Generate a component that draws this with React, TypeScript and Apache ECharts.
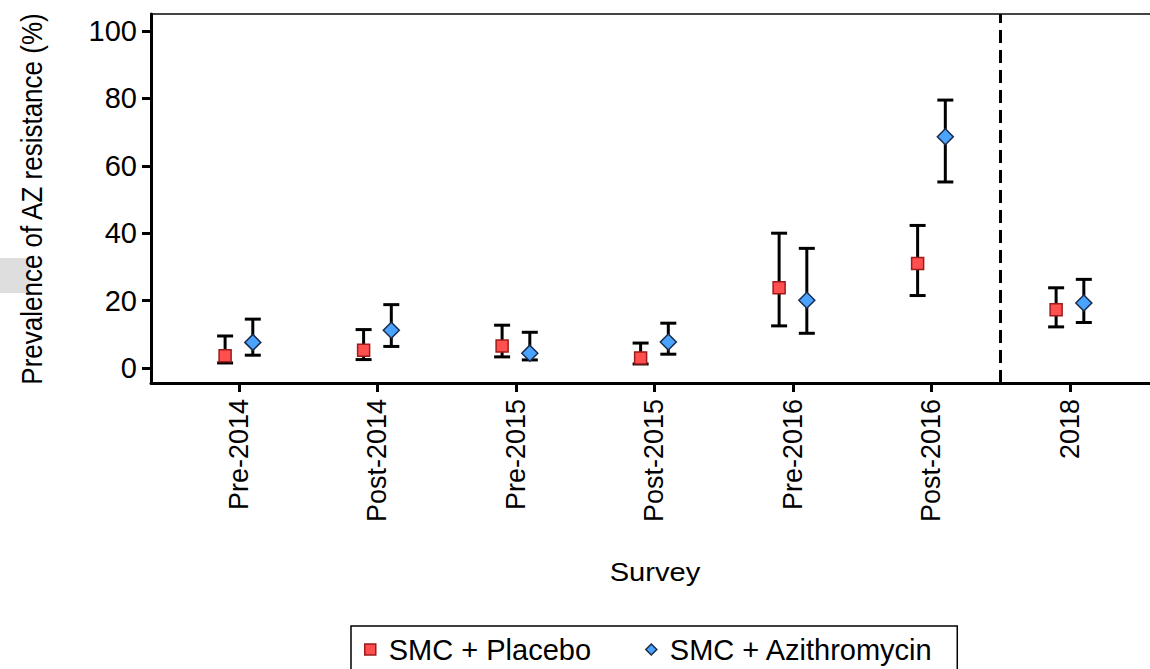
import React, { useEffect, useRef } from "react";
import * as echarts from "echarts";

const categories = ["Pre-2014", "Post-2014", "Pre-2015", "Post-2015", "Pre-2016", "Post-2016", "2018"];
const placeboEst = [3.6, 5.3, 6.5, 3.0, 23.8, 31.0, 17.3];
const placeboLow = [1.5, 2.5, 3.3, 1.2, 12.5, 21.5, 12.2];
const placeboHigh = [9.5, 11.4, 12.7, 7.4, 40.0, 42.3, 23.8];
const azEst = [7.6, 11.2, 4.4, 7.7, 20.1, 68.6, 19.3];
const azLow = [3.8, 6.4, 2.4, 4.1, 10.3, 55.2, 13.5];
const azHigh = [14.5, 18.8, 10.6, 13.3, 35.5, 79.5, 26.3];
const yTicks = [0, 20, 40, 60, 80, 100];
const dividerPosition = 6.5;

const OFFSET = 0.1;
const FONT = "'Liberation Sans', Arial, Helvetica, sans-serif";

export default function App() {
  const ref = useRef<HTMLDivElement>(null);

  useEffect(() => {
    if (!ref.current) return;
    const chart = echarts.init(ref.current, null, { renderer: "svg" });
    const catPos = categories.map((_, i) => i + 1);

    const placeboPts = catPos.map((p, i) => [p - OFFSET, placeboEst[i]]);
    const azPts = catPos.map((p, i) => [p + OFFSET, azEst[i]]);
    const placeboCI = catPos.map((p, i) => [p - OFFSET, placeboLow[i], placeboHigh[i]]);
    const azCI = catPos.map((p, i) => [p + OFFSET, azLow[i], azHigh[i]]);

    const renderErr = (params: any, api: any) => {
      const x = api.value(0);
      const lo = api.coord([x, api.value(1)]);
      const hi = api.coord([x, api.value(2)]);
      const hw = 8;
      const style = { stroke: "#000", lineWidth: 3 };
      return {
        type: "group",
        children: [
          { type: "line", shape: { x1: lo[0], y1: lo[1], x2: hi[0], y2: hi[1] }, style },
          { type: "line", shape: { x1: lo[0] - hw, y1: lo[1], x2: lo[0] + hw, y2: lo[1] }, style },
          { type: "line", shape: { x1: hi[0] - hw, y1: hi[1], x2: hi[0] + hw, y2: hi[1] }, style },
        ],
      };
    };

    chart.setOption({
      animation: false,
      backgroundColor: "#fff",
      textStyle: { fontFamily: FONT },
      grid: {
        left: 151,
        top: 14,
        width: 1009,
        height: 369,
        outerBoundsMode: "none",
        containLabel: false,
        show: true,
        borderColor: "#444",
        borderWidth: 2,
        backgroundColor: "transparent",
      },
      graphic: [
        { type: "rect", z: -10, shape: { x: 0, y: 258, width: 30, height: 35 }, style: { fill: "#dedede" } },
        {
          type: "text",
          x: 32,
          y: 199,
          rotation: Math.PI / 2,
          scaleY: 1.1,
          style: {
            text: "Prevalence of AZ resistance (%)",
            fontSize: 26,
            fontFamily: FONT,
            fill: "#000",
            align: "center",
            verticalAlign: "middle",
          },
        },
        {
          type: "text",
          x: 655,
          y: 572,
          scaleX: 1.12,
          style: {
            text: "Survey",
            fontSize: 26,
            fontFamily: FONT,
            fill: "#000",
            align: "center",
            verticalAlign: "middle",
          },
        },
      ],
      legend: {
        left: 351,
        top: 626,
        orient: "horizontal",
        borderColor: "#000",
        borderWidth: 1.5,
        padding: [9, 24, 20, 13],
        itemGap: 54,
        itemWidth: 11,
        itemHeight: 11,
        textStyle: { fontSize: 29, color: "#000", fontFamily: FONT, padding: [0, 0, 0, 8] },
        data: [
          { name: "SMC + Placebo", icon: "rect", itemStyle: { color: "#ff4f4f", borderColor: "#9c1b1b", borderWidth: 1.5 } },
          { name: "SMC + Azithromycin", icon: "diamond", itemStyle: { color: "#4aa3ff", borderColor: "#1b2b4a", borderWidth: 1.5 } },
        ],
      },
      xAxis: {
        type: "value",
        min: 0.365,
        max: 7.65,
        splitLine: { show: false },
        axisLine: { show: true, onZero: false, lineStyle: { color: "#000", width: 3 } },
        axisTick: { show: true, customValues: catPos, length: 9, lineStyle: { color: "#000", width: 3 } },
        axisLabel: {
          show: true,
          customValues: catPos,
          formatter: (v: number) => categories[Math.round(v) - 1] ?? "",
          rotate: 90,
          fontSize: 27,
          color: "#000",
          margin: 16,
          fontFamily: FONT,
        },
      },
      yAxis: {
        type: "value",
        min: -4.45,
        max: 105.04,
        splitLine: { show: false },
        axisLine: { show: true, onZero: false, lineStyle: { color: "#000", width: 3 } },
        axisTick: { show: true, customValues: yTicks, length: 9, lineStyle: { color: "#000", width: 3 } },
        axisLabel: {
          show: true,
          customValues: yTicks,
          fontSize: 29,
          color: "#000",
          margin: 14,
          fontFamily: FONT,
        },
      },
      series: [
        {
          name: "placeboCI",
          type: "custom",
          renderItem: renderErr,
          data: placeboCI,
          encode: { x: 0, y: [1, 2] },
          z: 2,
          silent: true,
        },
        {
          name: "azCI",
          type: "custom",
          renderItem: renderErr,
          data: azCI,
          encode: { x: 0, y: [1, 2] },
          z: 2,
          silent: true,
        },
        {
          name: "SMC + Placebo",
          type: "scatter",
          symbol: "rect",
          symbolSize: 12,
          data: placeboPts,
          z: 5,
          itemStyle: { color: "#ff4f4f", borderColor: "#9c1b1b", borderWidth: 1.5, opacity: 1 },
          markLine: {
            silent: true,
            symbol: ["none", "none"],
            label: { show: false },
            lineStyle: { color: "#000", width: 3, type: [13, 7] },
            data: [{ xAxis: dividerPosition }],
          },
        },
        {
          name: "SMC + Azithromycin",
          type: "scatter",
          symbol: "diamond",
          symbolSize: 16,
          data: azPts,
          z: 5,
          itemStyle: { color: "#4aa3ff", borderColor: "#1b2b4a", borderWidth: 1.5, opacity: 1 },
        },
      ],
    });
    return () => chart.dispose();
  }, []);

  return (
    <div
      ref={ref}
      style={{ position: "fixed", left: 0, top: 0, width: 1150, height: 669, background: "#fff" }}
    />
  );
}
